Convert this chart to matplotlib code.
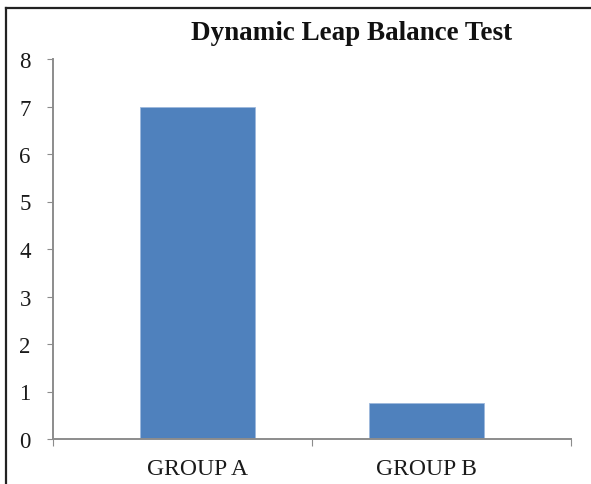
import matplotlib.pyplot as plt
from matplotlib.lines import Line2D

# data
groups = ['GROUP A', 'GROUP B']
scores = [7.0, 0.75]
y_ticks = [0, 1, 2, 3, 4, 5, 6, 7, 8]

W, H = 591, 485
fig = plt.figure(figsize=(W / 100, H / 100), dpi=100)
plt.rcParams['font.family'] = ['Liberation Serif', 'DejaVu Serif']

# axes box in pixels: x 53..571, y 60..440
ax = fig.add_axes([53 / W, 1 - 440 / H, (571 - 53) / W, (440 - 60) / H])

pos = list(range(len(groups)))
ax.bar(pos, scores, width=0.5, color='#4F81BD', edgecolor='#9DB9DC', linewidth=0.6, zorder=2)

ax.set_ylim(0, 8)
ax.set_yticks(y_ticks)
ax.set_xlim(-0.63, 1.63)
# category ticks sit at the edges and between the groups
ax.set_xticks([-0.63, 0.5, 1.63])
ax.set_xticklabels([])
for p, g in zip(pos, groups):
    ax.text(p, -0.4, g, ha='center', va='top', fontsize=17, color='#1a1a1a',
            transform=ax.transData)

axis_col = '#8c8c8c'
for s in ['top', 'right']:
    ax.spines[s].set_visible(False)
for s in ['left', 'bottom']:
    ax.spines[s].set_color(axis_col)
    ax.spines[s].set_linewidth(1.4)
ax.tick_params(axis='y', length=4, color=axis_col, pad=12, labelsize=16.5, labelcolor='#1a1a1a')
ax.tick_params(axis='x', length=5, color=axis_col, direction='out')
for lbl in ax.get_xticklabels():
    lbl.set_visible(False)

fig.text(352 / W, 1 - 34 / H, 'Dynamic Leap Balance Test', ha='center', va='center',
         fontsize=19.5, fontweight='bold', color='#111111')

# outer frame, only top and left edges show in the crop
fig.add_artist(Line2D([6 / W, 6 / W], [0, 1 - 9 / H], color='#222222', linewidth=1.6))
fig.add_artist(Line2D([6 / W, 1], [1 - 9 / H, 1 - 9 / H], color='#222222', linewidth=1.6))

fig.savefig('out.png', dpi=100)
